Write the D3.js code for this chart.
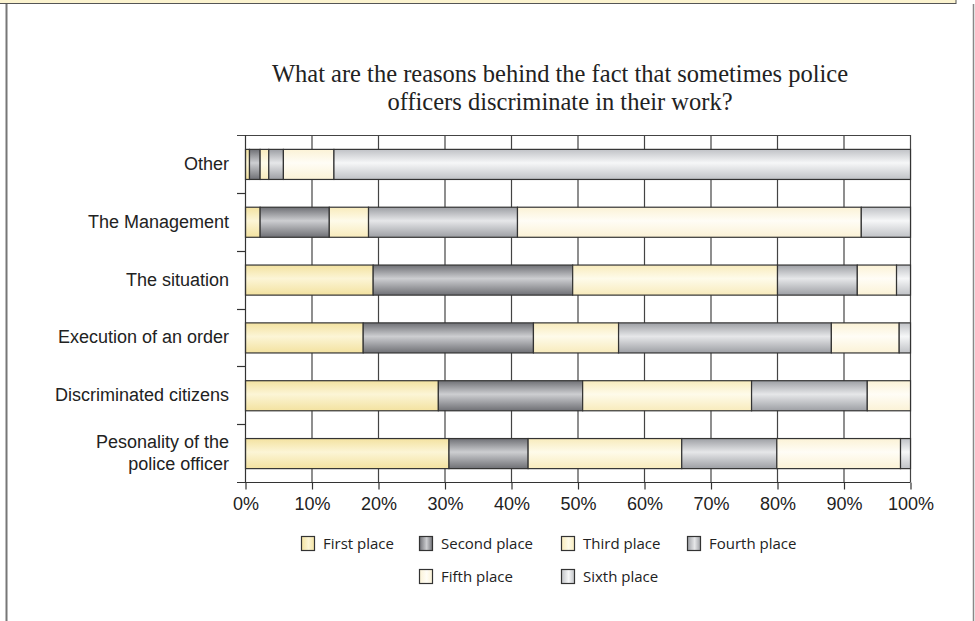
<!DOCTYPE html>
<html>
<head>
<meta charset="utf-8">
<title>Police discrimination reasons</title>
<script src="https://cdn.jsdelivr.net/npm/d3@7"></script>
<style>
  body { margin: 0; background: #fff; }
  svg { display: block; }
</style>
</head>
<body>
<div id="chart"></div>
<script>
// categories, top to bottom
const categories = ["Other", "The Management", "The situation", "Execution of an order",
  "Discriminated citizens", "Pesonality of the police officer"];
const series = ["First place", "Second place", "Third place", "Fourth place", "Fifth place", "Sixth place"];

// share (%) of each place, per category
const firstPlace  = [0.6, 2.2, 19.2, 17.7, 29.0, 30.6];
const secondPlace = [1.6, 10.4, 30.0, 25.6, 21.7, 11.9];
const thirdPlace  = [1.3, 5.9, 30.8, 12.8, 25.4, 23.1];
const fourthPlace = [2.2, 22.4, 12.0, 32.0, 17.4, 14.3];
const fifthPlace  = [7.6, 51.7, 5.9, 10.2, 6.5, 18.6];
const sixthPlace  = [86.7, 7.4, 2.1, 1.7, 0, 1.5];
const tickValues = [0, 10, 20, 30, 40, 50, 60, 70, 80, 90, 100];

const columns = [firstPlace, secondPlace, thirdPlace, fourthPlace, fifthPlace, sixthPlace];

// gradient stops: edge, middle
const shades = [
  ["#f3e2a0", "#fcf5d6"],
  ["#6f7075", "#cdced1"],
  ["#f8ebbc", "#fefbea"],
  ["#9d9fa4", "#e6e7e9"],
  ["#fbf2d6", "#fffdf6"],
  ["#c0c2c6", "#f6f7f8"]
];

const W = 975, H = 621;
const svg = d3.select("#chart").append("svg").attr("width", W).attr("height", H);
const defs = svg.append("defs");

shades.forEach(function (s, i) {
  const g = defs.append("linearGradient").attr("id", "gv" + i)
    .attr("x1", 0).attr("y1", 0).attr("x2", 0).attr("y2", 1);
  g.append("stop").attr("offset", "0%").attr("stop-color", s[0]);
  g.append("stop").attr("offset", "45%").attr("stop-color", s[1]);
  g.append("stop").attr("offset", "100%").attr("stop-color", s[0]);
  const h = defs.append("linearGradient").attr("id", "gh" + i)
    .attr("x1", 0).attr("y1", 0).attr("x2", 1).attr("y2", 0);
  h.append("stop").attr("offset", "0%").attr("stop-color", s[0]);
  h.append("stop").attr("offset", "55%").attr("stop-color", s[1]);
  h.append("stop").attr("offset", "100%").attr("stop-color", s[0]);
});

// page frame bits
svg.append("rect").attr("x", -1).attr("y", -1).attr("width", 957).attr("height", 4.5)
  .attr("fill", "#fbf3cf").attr("stroke", "#555").attr("stroke-width", 1);
svg.append("line").attr("x1", 6.5).attr("x2", 6.5).attr("y1", 4).attr("y2", H)
  .attr("stroke", "#777").attr("stroke-width", 2);
svg.append("line").attr("x1", 973.5).attr("x2", 973.5).attr("y1", 4).attr("y2", H)
  .attr("stroke", "#888").attr("stroke-width", 1.5);

// title
const title = svg.append("text").attr("text-anchor", "middle")
  .attr("font-family", "'Liberation Serif', serif").attr("font-size", 24.5).attr("fill", "#222");
title.append("tspan").attr("x", 560).attr("y", 82).text("What are the reasons behind the fact that sometimes police");
title.append("tspan").attr("x", 560).attr("y", 110).text("officers discriminate in their work?");

const x = d3.scaleLinear().domain([0, 100]).range([245, 910]);
const y = d3.scaleBand().domain(categories).range([135, 482]).paddingInner(0.48).paddingOuter(0.24);

// stacked data
const rows = categories.map(function (c, i) {
  const r = { cat: c };
  series.forEach(function (s, j) { r[s] = columns[j][i]; });
  return r;
});
const stacked = d3.stack().keys(series)(rows);

// vertical gridlines
svg.append("g").selectAll("line").data(tickValues.slice(1)).join("line")
  .attr("x1", d => x(d) + 0.5).attr("x2", d => x(d) + 0.5)
  .attr("y1", 135).attr("y2", 482)
  .attr("stroke", "#444").attr("stroke-width", 1.2);

// top line
svg.append("line").attr("x1", 237).attr("x2", x(100) + 1).attr("y1", 135.5).attr("y2", 135.5)
  .attr("stroke", "#444").attr("stroke-width", 1.2);

// bars
svg.append("g").selectAll("g").data(stacked).join("g")
  .attr("fill", (d, i) => "url(#gv" + i + ")")
  .selectAll("rect").data(d => d.filter(p => p[1] - p[0] > 0)).join("rect")
  .attr("x", d => x(d[0]) + 0.5)
  .attr("y", d => y(d.data.cat) + 0.5)
  .attr("width", d => x(d[1]) - x(d[0]))
  .attr("height", y.bandwidth())
  .attr("stroke", "#333").attr("stroke-width", 1.2);

// x axis
const xAxis = svg.append("g").attr("transform", "translate(0.5,482.5)")
  .call(d3.axisBottom(x).tickValues(tickValues).tickFormat(d => d + "%").tickSize(7).tickPadding(8));
xAxis.select(".domain").attr("d", "M" + (237 - 0.5) + ",0H" + x(100));
xAxis.selectAll("line, path").attr("stroke", "#333").attr("stroke-width", 1.2);
xAxis.selectAll("text").attr("font-family", "'Liberation Sans', Arial, sans-serif")
  .attr("font-size", 18).attr("fill", "#222");

// y axis line with ticks at row boundaries
const boundaries = d3.range(1, categories.length).map(i => 135 + i * (482 - 135) / categories.length);
const yAxis = svg.append("g");
yAxis.append("line").attr("x1", 245.5).attr("x2", 245.5).attr("y1", 135).attr("y2", 482)
  .attr("stroke", "#333").attr("stroke-width", 1.2);
yAxis.selectAll("line.tk").data(boundaries).join("line").attr("class", "tk")
  .attr("x1", 237).attr("x2", 245).attr("y1", d => Math.round(d) + 0.5).attr("y2", d => Math.round(d) + 0.5)
  .attr("stroke", "#333").attr("stroke-width", 1.2);

// category labels
const labelLines = {
  "Pesonality of the police officer": ["Pesonality of the", "police officer"]
};
svg.append("g").selectAll("text").data(categories).join("text")
  .attr("text-anchor", "end")
  .attr("font-family", "'Liberation Sans', Arial, sans-serif").attr("font-size", 18).attr("fill", "#222")
  .each(function (c) {
    const lines = labelLines[c] || [c];
    const cy = y(c) + y.bandwidth() / 2;
    const t = d3.select(this);
    lines.forEach(function (l, k) {
      t.append("tspan").attr("x", 229)
        .attr("y", cy + 6 + (k - (lines.length - 1) / 2) * 21.5)
        .text(l);
    });
  });

// legend
const legendPos = [[301, 543], [419, 543], [561, 543], [687, 543], [419, 576], [561, 576]];
const legend = svg.append("g").selectAll("g").data(series).join("g")
  .attr("transform", (d, i) => "translate(" + legendPos[i][0] + "," + legendPos[i][1] + ")");
legend.append("rect").attr("x", 0.5).attr("y", -6.5).attr("width", 13).attr("height", 14)
  .attr("fill", (d, i) => "url(#gh" + i + ")").attr("stroke", "#333").attr("stroke-width", 1.2);
legend.append("text").attr("x", 22).attr("y", 6)
  .attr("font-family", "'Open Sans', 'Noto Sans', sans-serif").attr("font-size", 15).attr("fill", "#222")
  .text(d => d);
</script>
</body>
</html>
